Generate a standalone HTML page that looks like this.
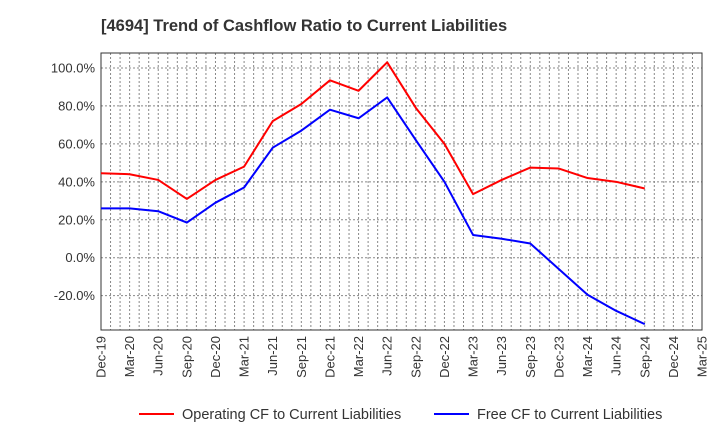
<!DOCTYPE html>
<html><head><meta charset="utf-8"><style>
body{margin:0;background:#fff;font-family:"Liberation Sans",sans-serif}
</style></head><body>
<svg id="chart" width="720" height="440" xmlns="http://www.w3.org/2000/svg" font-family="Liberation Sans, sans-serif">
<text x="101" y="31" font-size="16.5" font-weight="bold" fill="#333">[4694]  Trend of Cashflow Ratio to Current Liabilities</text>
<g id="grid"></g><g id="axes"></g><g id="series"></g>
<g>
<line x1="139" y1="414" x2="174" y2="414" stroke="#f00" stroke-width="2"/>
<text x="182" y="419" font-size="14.5" fill="#333">Operating CF to Current Liabilities</text>
<line x1="434" y1="414" x2="469" y2="414" stroke="#00f" stroke-width="2"/>
<text x="477" y="419" font-size="14.5" fill="#333">Free CF to Current Liabilities</text>
</g>
</svg>
<script>
const categories=["Dec-19","Mar-20","Jun-20","Sep-20","Dec-20","Mar-21","Jun-21","Sep-21","Dec-21","Mar-22","Jun-22","Sep-22","Dec-22","Mar-23","Jun-23","Sep-23","Dec-23","Mar-24","Jun-24","Sep-24","Dec-24","Mar-25"];
const operatingCF=[44.5,44,41,31,41,48,72,81,93.5,88,103,79,60,33.5,41,47.5,47,42,40,36.5];
const freeCF=[26,26,24.5,18.5,29,37,58,67,78,73.5,84.5,62,40,12,10,7.5,-6,-19.5,-28,-35];
const yTicks=[-20,0,20,40,60,80,100];
const NS="http://www.w3.org/2000/svg";
const L=101,R=702,T=53,B=330;
const yMin=-38.1,yMax=107.9;
const x=i=>L+i*(R-L)/(categories.length-1);
const y=v=>B-(v-yMin)/(yMax-yMin)*(B-T);
function mk(tag,attrs,parent){const e=document.createElementNS(NS,tag);for(const k in attrs)e.setAttribute(k,attrs[k]);document.getElementById(parent).appendChild(e);return e;}
for(let m=1;m<(categories.length-1)*3;m++){
 const xx=x(m/3);
 const g=mk('line',{x1:xx,x2:xx,y1:T,y2:B,stroke:'#888','stroke-dasharray':'2,2','stroke-width':1},'grid');
 
 
}
categories.forEach((c,i)=>{
 const t=mk('text',{x:0,y:0,'font-size':13,fill:'#333','text-anchor':'end',transform:`translate(${x(i)+4.5},${B+6}) rotate(-90)`},'axes');
 t.textContent=c;
 
 
});
yTicks.forEach(v=>{
 const g=mk('line',{x1:L,x2:R,y1:y(v),y2:y(v),stroke:'#888','stroke-dasharray':'2,2','stroke-width':1},'grid');
 
 
 const t=mk('text',{x:L-6,y:y(v)+4.5,'font-size':13,fill:'#333','text-anchor':'end'},'axes');
 t.textContent=v.toFixed(1)+'%';
 
 
});
const fr=mk('rect',{x:L,y:T,width:R-L,height:B-T,fill:'none',stroke:'#333','stroke-width':1},'axes');


function line(data,color,name){
 const p=mk('polyline',{points:data.map((v,i)=>x(i)+','+y(v)).join(' '),fill:'none',stroke:color,'stroke-width':2,'stroke-linejoin':'round'},'series');
 
 
}
line(operatingCF,'#f00','operating-cf-line');
line(freeCF,'#00f','free-cf-line');
</script>
</body></html>
